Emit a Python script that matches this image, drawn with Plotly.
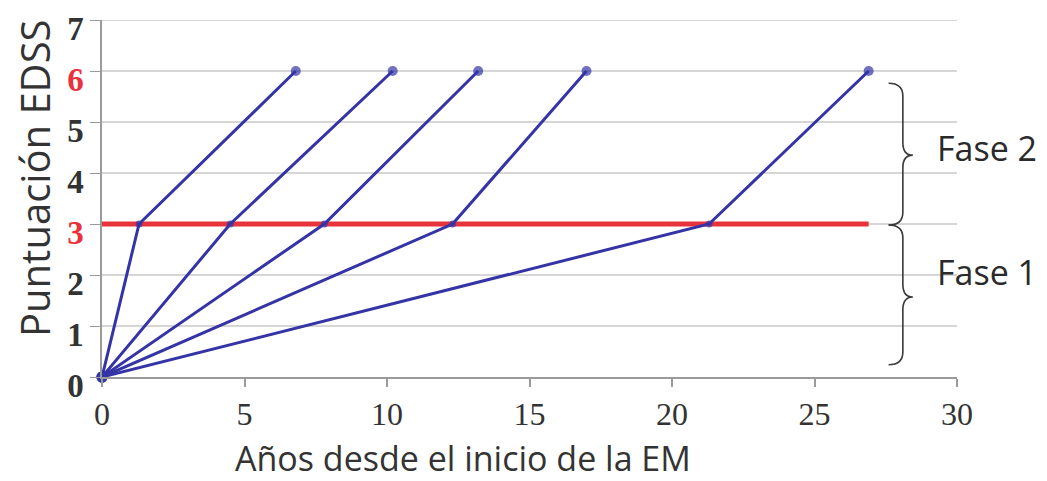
import plotly.graph_objects as go

# ---- data ----
edss_levels = [0, 3, 6]
years_reach_edss3 = [1.3, 4.5, 7.8, 12.3, 21.3]
years_reach_edss6 = [6.8, 10.2, 13.2, 17.0, 26.9]
threshold_edss = 3
threshold_end_year = 26.9
x_ticks = [0, 5, 10, 15, 20, 25, 30]
y_ticks = [0, 1, 2, 3, 4, 5, 6, 7]
y_ticktext = ["0", "1", "2", "<span style='color:#e8323c'>3</span>", "4", "5",
              "<span style='color:#e8323c'>6</span>", "7"]
phase_labels = ["Fase 2", "Fase 1"]

BLUE = "#3434a6"
RED = "#e8323c"
GRID = "#d6d6d6"

# page body has an 8px margin: figure is placed at (8, 8)
OFF = 8
L, T = 102 - OFF, 20 - OFF
W_PLOT, H_PLOT = 855, 357

fig = go.Figure()

# red threshold line
fig.add_trace(go.Scatter(x=[0, threshold_end_year], y=[threshold_edss, threshold_edss],
                         mode="lines", line=dict(color=RED, width=5),
                         hoverinfo="skip", showlegend=False, cliponaxis=False))

for x3, x6 in zip(years_reach_edss3, years_reach_edss6):
    fig.add_trace(go.Scatter(x=[0, x3, x6], y=edss_levels, mode="lines+markers",
                             line=dict(color=BLUE, width=3),
                             marker=dict(color=BLUE, size=[11, 7, 10], line=dict(width=0)),
                             showlegend=False, cliponaxis=False))

# braces (data coordinates)
def brace(x0, xm, xt, ytop, ymid, ybot, d=0.25):
    return (f"M {x0},{ytop} Q {xm},{ytop} {xm},{ytop-d} L {xm},{ymid+d} "
            f"Q {xm},{ymid} {xt},{ymid} Q {xm},{ymid} {xm},{ymid-d} "
            f"L {xm},{ybot+d} Q {xm},{ybot} {x0},{ybot}")

shapes = [
    # top gridline (plotly drops the grid line at the range end)
    dict(type="line", xref="paper", yref="y", x0=0, x1=1, y0=y_ticks[-1], y1=y_ticks[-1],
         line=dict(color=GRID, width=2), layer="below"),
    dict(type="path", xref="x", yref="y", path=brace(27.6, 28.1, 28.45, 5.76, 4.35, 2.98),
         line=dict(color="#3a3a3a", width=1.6)),
    dict(type="path", xref="x", yref="y", path=brace(27.6, 28.1, 28.45, 2.98, 1.57, 0.24),
         line=dict(color="#3a3a3a", width=1.6)),
]

def px(xp):  # page x -> paper
    return (xp - 102) / W_PLOT

def py(yp):  # page y -> paper
    return (377 - yp) / H_PLOT

annotations = [
    dict(x=px(463), y=py(458), xref="paper", yref="paper",
         text="Años desde el inicio de la EM", showarrow=False,
         font=dict(family="Open Sans", size=34, color="#333"), xanchor="center", yanchor="middle"),
    dict(x=px(34), y=py(178), xref="paper", yref="paper",
         text="Puntuación EDSS", showarrow=False, textangle=-90,
         font=dict(family="Open Sans", size=40, color="#333"), xanchor="center", yanchor="middle"),
    dict(x=px(935), y=py(148), xref="paper", yref="paper",
         text=phase_labels[0], showarrow=False, xanchor="left", yanchor="middle",
         font=dict(family="Open Sans", size=34, color="#2a2a2a")),
    dict(x=px(935), y=py(272), xref="paper", yref="paper",
         text=phase_labels[1], showarrow=False, xanchor="left", yanchor="middle",
         font=dict(family="Open Sans", size=34, color="#2a2a2a")),
]

fig.update_layout(
    width=1047 - OFF, height=481 - OFF,
    margin=dict(l=L, r=90, t=T, b=104),
    plot_bgcolor="white", paper_bgcolor="white",
    shapes=shapes, annotations=annotations,
    xaxis=dict(range=[0, 30], tickvals=x_ticks, showgrid=False, zeroline=False,
               automargin=False, ticklabeloverflow="allow",
               showline=True, linecolor="#9a9a9a", linewidth=2,
               ticks="outside", ticklen=8, tickcolor="#9a9a9a", tickwidth=1.5,
               tickfont=dict(family="Liberation Serif", size=32, color="#333")),
    yaxis=dict(range=[0, 7], tickvals=y_ticks, ticktext=y_ticktext,
               automargin=False, ticklabeloverflow="allow", ticklabelshift=8,
               showgrid=True, gridcolor=GRID, gridwidth=2, zeroline=False,
               showline=True, linecolor="#9a9a9a", linewidth=1.5,
               ticks="outside", ticklen=10, tickcolor="#9a9a9a",
               tickfont=dict(family="Liberation Serif", size=33, color="#333", weight="bold")),
)

fig.write_html("out.html")
